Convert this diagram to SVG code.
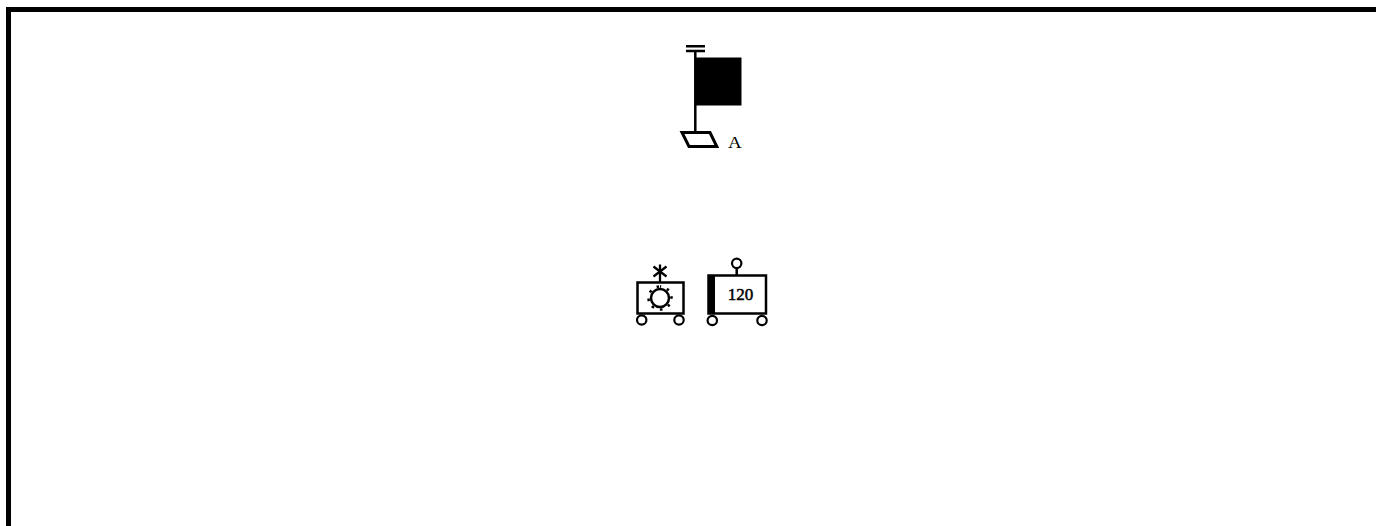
<svg xmlns="http://www.w3.org/2000/svg" width="1376" height="526" viewBox="0 0 1376 526">
<style>
.l{fill:none;stroke:#000;stroke-width:2.500}
.s{fill:none;stroke:#000;stroke-width:2.300}
.h{fill:none;stroke:#000;stroke-width:3}
.w{fill:#fff;stroke:#000;stroke-width:2.200}
.t{font-family:"Liberation Serif",serif;fill:#000}
</style>
<rect width="1376" height="526" fill="#fff"/>
<path id="border" d="M8.500 526V9.500H1376" fill="none" stroke="#000" stroke-width="5"/>
<g id="signal-a">
<path class="l" d="M695.300 50V132M686 46.300H705M686 51H705"/>
<rect x="696" y="57.500" width="45.500" height="48"/>
<path class="h" d="M682 132.500H710L716.800 146.500H689Z"/>
<text class="t" x="728" y="147.700" font-size="16.500" textLength="13.700" lengthAdjust="spacingAndGlyphs">A</text>
</g>
<g id="cart-gear">
<rect class="l" x="637.500" y="282.500" width="46" height="31"/>
<path class="s" d="M660 282.500V264.500M653.500 266.500L666.500 276.500M666.500 266.500L653.500 276.500"/>
<circle class="l" cx="660" cy="298" r="9"/>
<path class="l" stroke-dasharray="2.500 6.140" stroke-dashoffset="1.250" d="M660 286.500A11.500 11.500 0 1 1 659.990 286.500" stroke-width="2"/>
<circle class="w" cx="641.700" cy="320" r="4.700"/>
<circle class="w" cx="679" cy="320" r="4.700"/>
</g>
<g id="cart-120">
<path class="l" d="M736.700 275V268"/>
<circle class="w" cx="736.700" cy="263.300" r="4.700"/>
<rect class="l" x="708.500" y="275.500" width="57.500" height="38"/>
<rect x="708" y="275" width="7" height="39"/>
<text class="t" x="740.500" y="300" font-size="17" stroke="#000" stroke-width="0.500" text-anchor="middle">120</text>
<circle class="w" cx="712.300" cy="320.500" r="4.700"/>
<circle class="w" cx="762" cy="320.500" r="4.700"/>
</g>
<g id="connectors"/>
</svg>
